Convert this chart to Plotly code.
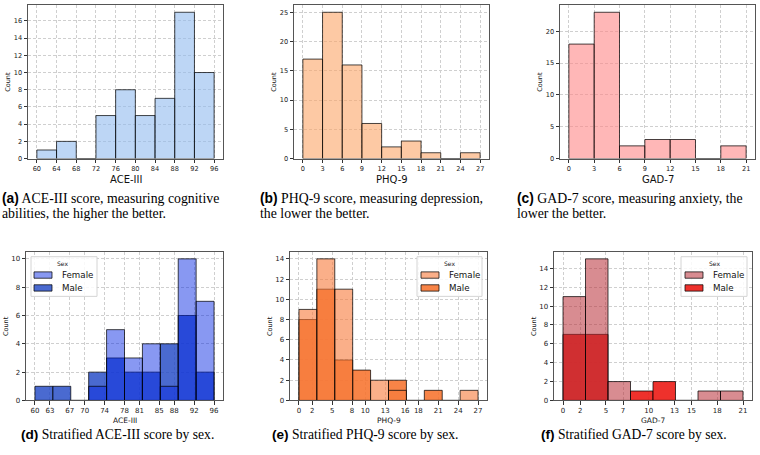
import plotly.graph_objects as go

W, H = 760, 455

# ---------------- data ----------------
ace_edges = [60, 64, 68, 72, 76, 80, 84, 88, 92, 96]
ace_counts = [1, 2, 0, 5, 8, 5, 7, 17, 10]
phq_edges = [0, 3, 6, 9, 12, 15, 18, 21, 24, 27]
phq_counts = [17, 25, 16, 6, 2, 3, 1, 0, 1]
gad_edges = [0, 3, 6, 9, 12, 15, 18, 21]
gad_counts = [18, 23, 2, 3, 3, 0, 2]

ace_sex_edges = [60, 63.6, 67.2, 70.8, 74.4, 78, 81.6, 85.2, 88.8, 92.4, 96]
ace_female = [0, 0, 0, 1, 5, 3, 4, 1, 10, 7]
ace_male = [1, 1, 0, 2, 3, 2, 2, 4, 6, 2]
ace_sex_ticks = [60, 63, 67, 70, 74, 78, 81, 85, 88, 92, 96]

phq_sex_edges = [0, 2.7, 5.4, 8.1, 10.8, 13.5, 16.2, 18.9, 21.6, 24.3, 27]
phq_female = [9, 14, 11, 0, 2, 1, 0, 0, 0, 1]
phq_male = [8, 11, 4, 3, 0, 2, 0, 1, 0, 0]
phq_sex_ticks = [0, 2, 5, 8, 10, 13, 16, 18, 21, 24, 27]

gad_sex_edges = [0, 2.625, 5.25, 7.875, 10.5, 13.125, 15.75, 18.375, 21]
gad_female = [11, 15, 2, 0, 0, 0, 1, 1]
gad_male = [7, 7, 0, 1, 2, 0, 0, 0]
gad_sex_ticks = [0, 2, 5, 7, 10, 13, 15, 18, 21]

sex_levels = ["Female", "Male"]
x_titles = ["ACE-III", "PHQ-9", "GAD-7"]
captions_top = [
    ("(a)", "ACE-III score, measuring cognitive", "abilities, the higher the better."),
    ("(b)", "PHQ-9 score, measuring depression,", "the lower the better."),
    ("(c)", "GAD-7 score, measuring anxiety, the", "lower the better."),
]
captions_bottom = [
    ("(d)", "Stratified ACE-III score by sex."),
    ("(e)", "Stratified PHQ-9 score by sex."),
    ("(f)", "Stratified GAD-7 score by sex."),
]

# ---------------- helpers ----------------
def px(x):
    return x / W

def py(y):
    return 1 - y / H

def centers(e):
    return [(e[i] + e[i + 1]) / 2 for i in range(len(e) - 1)]

def widths(e):
    return [e[i + 1] - e[i] for i in range(len(e) - 1)]

def xrange_(e):
    s = e[-1] - e[0]
    return [e[0] - 0.05 * s, e[-1] + 0.05 * s]

EDGE = "rgba(0,0,0,0.72)"
fig = go.Figure()

# panel boxes in pixels: (left, right, top, bottom)
boxes = [
    (28, 223, 5, 160), (294, 489, 5, 160), (560, 755, 5, 160),
    (26, 223, 254, 404), (290, 487, 254, 404), (554, 752, 254, 404),
]

top_sets = [(ace_edges, ace_counts, "rgba(145,187,238,0.6)"),
            (phq_edges, phq_counts, "rgba(252,165,103,0.6)"),
            (gad_edges, gad_counts, "rgba(255,135,135,0.6)")]

for i, (e, c, col) in enumerate(top_sets):
    n = i + 1
    fig.add_trace(go.Bar(x=centers(e), y=c, width=widths(e), base=0,
                         marker=dict(color=col, line=dict(color=EDGE, width=1)),
                         xaxis=f"x{n}", yaxis=f"y{n}", showlegend=False))

bottom_sets = [
    (ace_sex_edges, ace_female, ace_male, "rgba(2,36,228,0.47)", "rgba(29,69,196,0.8)"),
    (phq_sex_edges, phq_female, phq_male, "rgba(247,122,58,0.6)", "rgba(247,115,45,0.88)"),
    (gad_sex_edges, gad_female, gad_male, "rgba(184,46,55,0.55)", "rgba(236,27,21,0.9)"),
]
for i, (e, f, m, fc, mc) in enumerate(bottom_sets):
    n = i + 4
    fig.add_trace(go.Bar(x=centers(e), y=m, width=widths(e), base=0, name=sex_levels[1],
                         marker=dict(color=mc, line=dict(color=EDGE, width=1)),
                         xaxis=f"x{n}", yaxis=f"y{n}", showlegend=False))
    fig.add_trace(go.Bar(x=centers(e), y=f, width=widths(e), base=0, name=sex_levels[0],
                         marker=dict(color=fc, line=dict(color=EDGE, width=1)),
                         xaxis=f"x{n}", yaxis=f"y{n}", showlegend=False))

def axstyle(size):
    return dict(showline=True, mirror=True, linecolor="#555", linewidth=1,
                ticks="outside", ticklen=3.5, tickwidth=0.8, tickcolor="#333",
                showgrid=True, gridcolor="#cfcfcf", griddash="3px,2px", gridwidth=0.8,
                zeroline=False, tickfont=dict(family="DejaVu Sans", size=size, color="#222"))

x_edges_all = [ace_edges, phq_edges, gad_edges]
x_ticks_bottom = [ace_sex_ticks, phq_sex_ticks, gad_sex_ticks]
x_edges_bottom = [ace_sex_edges, phq_sex_edges, gad_sex_edges]
y_max = [max(ace_counts), max(phq_counts), max(gad_counts),
         max(ace_female + ace_male), max(phq_female + phq_male), max(gad_female + gad_male)]
y_dtick = [2, 5, 5, 2, 2, 2]

layout = {}
for k in range(6):
    n = k + 1
    l, r, t, b = boxes[k]
    size = 6.6 if k < 3 else 7
    xa = axstyle(size)
    ya = axstyle(size)
    xa.update(domain=[px(l), px(r)], anchor=f"y{n}")
    ya.update(domain=[py(b), py(t)], anchor=f"x{n}", range=[0, 1.05 * y_max[k]],
              tick0=0, dtick=y_dtick[k])
    if k < 3:
        e = x_edges_all[k]
        xa.update(range=xrange_(e), tickvals=e, ticktext=[str(v) for v in e])
    else:
        e = x_edges_bottom[k - 3]
        tv = x_ticks_bottom[k - 3]
        xa.update(range=xrange_(e), tickvals=tv, ticktext=[str(v) for v in tv])
    layout[f"xaxis{n}"] = xa
    layout[f"yaxis{n}"] = ya

annotations = []
shapes = []
for k in range(6):
    l, r, t, b = boxes[k]
    cx = (l + r) / 2
    if k < 3:
        annotations.append(dict(text=x_titles[k], x=px(cx), y=py(181), xref="paper", yref="paper",
                                xanchor="center", yanchor="middle", showarrow=False,
                                font=dict(family="DejaVu Sans", size=10, color="#111")))
    else:
        annotations.append(dict(text=x_titles[k - 3], x=px(cx), y=py(424), xref="paper", yref="paper",
                                xanchor="center", yanchor="middle", showarrow=False,
                                font=dict(family="DejaVu Sans", size=7.5, color="#111")))
    annotations.append(dict(text="Count", x=px(l - 20), y=py((t + b) / 2), xref="paper", yref="paper",
                            xanchor="center", yanchor="middle", showarrow=False, textangle=-90,
                            font=dict(family="DejaVu Sans", size=6.5, color="#111")))

cap_x_top = [0, 258, 515]
for k, (lab, l1, l2) in enumerate(captions_top):
    annotations.append(dict(
        text=f"<span style='font-family:Liberation Sans'><b>{lab}</b></span> {l1}",
        x=px(cap_x_top[k]), y=py(200), xref="paper", yref="paper", xanchor="left", yanchor="middle",
        showarrow=False, font=dict(family="Liberation Serif", size=13.8, color="#000")))
    annotations.append(dict(
        text=l2, x=px(cap_x_top[k]), y=py(215), xref="paper", yref="paper", xanchor="left",
        yanchor="middle", showarrow=False, font=dict(family="Liberation Serif", size=13.8, color="#000")))

cap_x_bot = [19, 270, 539]
for k, (lab, l1) in enumerate(captions_bottom):
    annotations.append(dict(
        text=f"<span style='font-family:Liberation Sans'><b>{lab}</b></span> {l1}",
        x=px(cap_x_bot[k]), y=py(438), xref="paper", yref="paper", xanchor="left", yanchor="middle",
        showarrow=False, font=dict(family="Liberation Serif", size=13.6, color="#000")))

# legends drawn as boxes: (box left, box right, patch left, text left, title center)
leg_geo = [(31, 97, 34, 60, 63), (417, 482, 421, 447, 450), (681, 747, 685, 711, 714)]
for k, (bl, br, pl, tl, tc) in enumerate(leg_geo):
    fc, mc = bottom_sets[k][3], bottom_sets[k][4]
    shapes.append(dict(type="rect", xref="paper", yref="paper", layer="above",
                       x0=px(bl), x1=px(br), y0=py(299), y1=py(259),
                       fillcolor="rgba(255,255,255,0.85)", line=dict(color="#d4d4d4", width=1)))
    annotations.append(dict(text="Sex", x=px(tc), y=py(265.5), xref="paper", yref="paper",
                            xanchor="center", yanchor="middle", showarrow=False,
                            font=dict(family="DejaVu Sans", size=6, color="#111")))
    for j, (lab, col, yc) in enumerate([(sex_levels[0], fc, 277.5), (sex_levels[1], mc, 290.5)]):
        shapes.append(dict(type="rect", xref="paper", yref="paper", layer="above",
                           x0=px(pl), x1=px(pl + 18), y0=py(yc + 3.2), y1=py(yc - 3.2),
                           fillcolor=col, line=dict(color=EDGE, width=1)))
        annotations.append(dict(text=lab, x=px(tl), y=py(yc), xref="paper", yref="paper",
                                xanchor="left", yanchor="middle", showarrow=False,
                                font=dict(family="DejaVu Sans", size=8.7, color="#111")))

fig.update_layout(width=W, height=H, margin=dict(l=0, r=0, t=0, b=0),
                  paper_bgcolor="white", plot_bgcolor="white", barmode="overlay",
                  showlegend=False, annotations=annotations, shapes=shapes, **layout)

fig.write_html("out.html")
